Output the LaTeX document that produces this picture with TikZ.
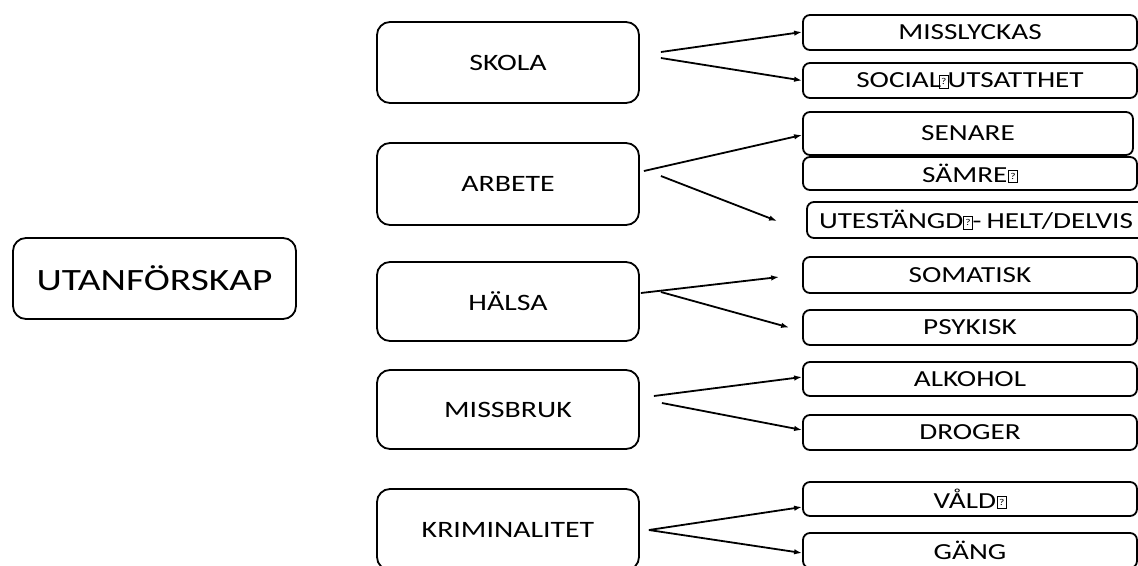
\documentclass[tikz,border=0pt]{standalone}
\usepackage{fontspec}
\setmainfont{Carlito}
\newfontfamily\wide[FakeStretch=1.27]{Carlito}
\usetikzlibrary{arrows.meta}
\newcommand{\qbox}{{\setlength{\fboxsep}{0pt}\setlength{\fboxrule}{0.7pt}\fbox{\parbox[b][12pt][c]{8pt}{\centering\fontsize{9}{9}\selectfont ?}}}}
\tikzset{
  bigbox/.style={draw=black, line width=1.8pt, rounded corners=13pt, minimum width=262pt, inner sep=0pt, font=\wide\fontsize{23.5}{27}\selectfont},
  smallbox/.style={draw=black, line width=1.8pt, rounded corners=7pt, minimum width=334pt, inner sep=0pt, font=\wide\fontsize{23}{27}\selectfont},
  arr/.style={line width=1.8pt, -{Latex[length=8pt,width=5.5pt]}}
}
\begin{document}
\begin{tikzpicture}[x=1pt,y=-1pt]
\useasboundingbox (0,0) rectangle (1138,565);
\node[bigbox, minimum width=283pt, minimum height=81pt, font=\wide\fontsize{31}{34}\selectfont] (utan) at (154.5,278.5) {UTANFÖRSKAP};
\node[bigbox, minimum height=81pt] (skola) at (508,62.5) {SKOLA};
\node[bigbox, minimum height=82pt] (arbete) at (508,184) {ARBETE};
\node[bigbox, minimum height=79pt] (halsa) at (508,301.5) {HÄLSA};
\node[bigbox, minimum height=79pt] (missbruk) at (508,409.5) {MISSBRUK};
\node[bigbox, minimum height=81pt] (krim) at (508,529.5) {KRIMINALITET};

\node[smallbox, minimum height=35pt] (miss) at (970,32.5) {MISSLYCKAS};
\node[smallbox, minimum height=35pt] (social) at (970,80.5) {SOCIAL\hspace{-2pt}\qbox\hspace{-1pt}UTSATTHET};
\node[smallbox, minimum width=330pt, minimum height=43pt] (senare) at (968,133.5) {SENARE};
\node[smallbox, minimum height=33pt] (samre) at (970,173.5) {SÄMRE\hspace{1pt}\qbox};
\node[smallbox, minimum width=338pt, minimum height=36pt] (ute) at (976,220) {UTESTÄNGD\qbox -\hspace{5pt}HELT/DELVIS};
\node[smallbox, minimum height=36pt] (soma) at (970,275) {SOMATISK};
\node[smallbox, minimum height=35pt] (psyk) at (970,327.5) {PSYKISK};
\node[smallbox, minimum height=34pt] (alk) at (970,379) {ALKOHOL};
\node[smallbox, minimum height=35pt] (drog) at (970,432.5) {DROGER};
\node[smallbox, minimum height=34pt] (vald) at (970,499) {VÅLD\hspace{1pt}\qbox};
\node[smallbox, minimum height=35pt] (gang) at (970,550.5) {GÄNG};

\draw[arr] ([shift={(21,-10.5)}]skola.east) -- ([shift={(0,-0.5)}]miss.west);
\draw[arr] ([shift={(21,-4.5)}]skola.east) -- (social.west);
\draw[arr] ([shift={(4,-13)}]arbete.east) -- ([shift={(0,1.5)}]senare.west);
\draw[arr] ([shift={(21,-8)}]arbete.east) -- ([shift={(-29,1)}]ute.west);
\draw[arr] ([shift={(1,-8.5)}]halsa.east) -- ([shift={(-23,2)}]soma.west);
\draw[arr] ([shift={(21,-9.5)}]halsa.east) -- ([shift={(-13,0)}]psyk.west);
\draw[arr] ([shift={(14,-13.5)}]missbruk.east) -- ([shift={(0,-2)}]alk.west);
\draw[arr] ([shift={(22,-6.5)}]missbruk.east) -- ([shift={(0,-2.5)}]drog.west);
\draw[arr] ([shift={(9,0.5)}]krim.east) -- ([shift={(0,8)}]vald.west);
\draw[arr] ([shift={(9,0.5)}]krim.east) -- ([shift={(0,2.5)}]gang.west);
\end{tikzpicture}
\end{document}
